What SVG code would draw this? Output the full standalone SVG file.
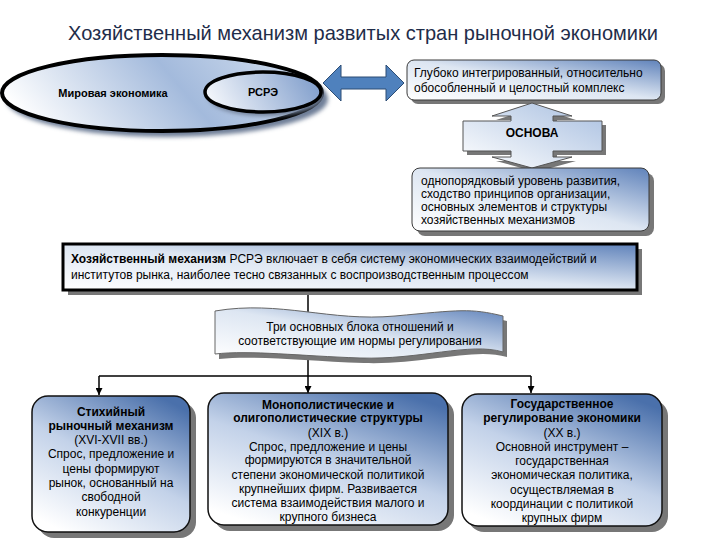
<svg xmlns="http://www.w3.org/2000/svg" width="720" height="540" viewBox="0 0 720 540">
<defs>
<linearGradient id="gEll" x1="0" y1="0.5" x2="1" y2="0.3">
<stop offset="0" stop-color="#ffffff"/>
<stop offset="0.55" stop-color="#a3badc"/>
<stop offset="1" stop-color="#d3dfef"/>
</linearGradient>
<linearGradient id="gSmall" x1="0" y1="0.5" x2="1" y2="0.3">
<stop offset="0" stop-color="#f3f6fb"/>
<stop offset="1" stop-color="#7f9dcb"/>
</linearGradient>
<linearGradient id="gBox" x1="0" y1="1" x2="1" y2="0">
<stop offset="0" stop-color="#ffffff"/>
<stop offset="0.5" stop-color="#dde6f2"/>
<stop offset="1" stop-color="#5f82ba"/>
</linearGradient>
<linearGradient id="gDown" x1="0.2" y1="1" x2="0.8" y2="0">
<stop offset="0" stop-color="#ffffff"/>
<stop offset="0.5" stop-color="#c3d2e9"/>
<stop offset="1" stop-color="#4a70ab"/>
</linearGradient>
<linearGradient id="gOsn" x1="0" y1="1" x2="1" y2="0">
<stop offset="0" stop-color="#ffffff"/>
<stop offset="1" stop-color="#a8bfe0"/>
</linearGradient>
<filter id="blur" x="-10%" y="-10%" width="120%" height="130%"><feGaussianBlur stdDeviation="2"/></filter>
<marker id="arr" viewBox="0 0 10 10" refX="10" refY="5" markerWidth="7" markerHeight="7" orient="auto" markerUnits="userSpaceOnUse">
<path d="M0,0 L10,5 L0,10 Z" fill="#000"/>
</marker>
<style>
text{font-family:"Liberation Sans",Arial,sans-serif;fill:#000;}
.t{font-size:12px;}
.b{font-weight:bold;}
.c{text-anchor:middle;}
.sh{fill:#777777;}
.box{stroke:#3a3a3a;stroke-width:1;}
.dbox{stroke:#111;stroke-width:1.5;fill:url(#gDown);}
.con{stroke:#000;stroke-width:1.5;fill:none;}
</style>
</defs>
<rect width="720" height="540" fill="#ffffff"/>

<text id="title" x="363" y="40" class="c" font-size="21" style="fill:#1f2d4a" textLength="590" lengthAdjust="spacingAndGlyphs">Хозяйственный механизм развитых стран рыночной экономики</text>

<g id="world">
<ellipse cx="167" cy="99" rx="161" ry="38" fill="#6f7f98" filter="url(#blur)"/>
<ellipse cx="162" cy="93" rx="160" ry="38" fill="url(#gEll)" stroke="#000" stroke-width="4"/>
<text x="113" y="97" class="b c" font-size="11">Мировая экономика</text>
</g>

<g id="rsre">
<ellipse cx="266" cy="96" rx="58" ry="20" fill="#6f7f98" filter="url(#blur)"/>
<ellipse cx="263" cy="92" rx="58" ry="20" fill="url(#gSmall)" stroke="#000" stroke-width="3.5"/>
<text x="263" y="96" class="b c" font-size="11">РСРЭ</text>
</g>

<g id="complex">
<rect x="411" y="64" width="254" height="40" rx="7" class="sh"/>
<rect x="407" y="60" width="254" height="40" rx="7" fill="url(#gBox)" class="box"/>
<text x="414" y="77" class="t">Глубоко интегрированный, относительно</text>
<text x="414" y="92" class="t">обособленный и целостный комплекс</text>
</g>

<g id="osnova">
<path d="M536,107 L576,120 L557,120 L557,125 L606,125 L606,155 L557,155 L557,161 L576,161 L536,172 L496,161 L515,161 L515,155 L467,155 L467,125 L515,125 L515,120 L496,120 Z" class="sh"/>
<path d="M532,103 L572,116 L553,116 L553,121 L602,121 L602,151 L553,151 L553,157 L572,157 L532,168 L492,157 L511,157 L511,151 L463,151 L463,121 L511,121 L511,116 L492,116 Z" fill="url(#gOsn)" stroke="#555" stroke-width="1"/>
<text x="532" y="137" class="t b c">ОСНОВА</text>
</g>

<g id="basis">
<rect x="417" y="173" width="237" height="63" rx="8" class="sh"/>
<rect x="412" y="168" width="237" height="63" rx="8" fill="url(#gBox)" class="box"/>
<text x="421" y="185" class="t">однопорядковый уровень развития,</text>
<text x="421" y="198" class="t">сходство принципов организации,</text>
<text x="421" y="211" class="t">основных элементов и структуры</text>
<text x="421" y="224" class="t">хозяйственных механизмов</text>
</g>

<g id="connectors">
<path d="M323,83 L341,65 L341,77 L386,77 L386,65 L404,83 L386,101 L386,89 L341,89 L341,101 Z" fill="#4f81bd" stroke="#2c4d75" stroke-width="1"/>
<line x1="308" y1="291" x2="308" y2="376" class="con"/>
<line x1="99" y1="376" x2="531" y2="376" class="con"/>
<line x1="99" y1="376" x2="99" y2="395" class="con" marker-end="url(#arr)"/>
<line x1="308" y1="376" x2="308" y2="393" class="con" marker-end="url(#arr)"/>
<line x1="531" y1="376" x2="531" y2="393" class="con" marker-end="url(#arr)"/>
</g>

<g id="mechanism">
<rect x="68" y="249" width="574" height="46" class="sh"/>
<rect x="63" y="244" width="574" height="46" fill="url(#gBox)" stroke="#000" stroke-width="3"/>
<text x="71" y="263" class="t"><tspan class="b">Хозяйственный механизм</tspan> РСРЭ включает в себя систему экономических взаимодействий и</text>
<text x="71" y="279" class="t">институтов рынка, наиболее тесно связанных с воспроизводственным процессом</text>
</g>

<g id="blocks">
<path d="M219,316 C284,305 334,327 399,321 S474,313 507,321 L507,357 C474,347 424,365 364,363 S254,355 219,359 Z" class="sh"/>
<path d="M215,311 C280,300 330,322 395,316 S470,308 503,316 L503,352 C470,342 420,360 360,358 S250,350 215,354 Z" fill="url(#gBox)" stroke="#666" stroke-width="1"/>
<text x="360" y="331" class="t c">Три основных блока отношений и</text>
<text x="360" y="345" class="t c">соответствующие им нормы регулирования</text>
</g>

<g id="spontaneous">
<rect x="38" y="402" width="158" height="136" rx="16" class="sh"/>
<rect x="32" y="396" width="158" height="136" rx="16" class="dbox"/>
<text x="111" y="416" class="t b c">Стихийный</text>
<text x="111" y="430" class="t b c">рыночный механизм</text>
<text x="111" y="444" class="t c">(XVI-XVII вв.)</text>
<text x="111" y="458" class="t c">Спрос, предложение и</text>
<text x="111" y="473" class="t c">цены формируют</text>
<text x="111" y="487" class="t c">рынок, основанный на</text>
<text x="111" y="501" class="t c">свободной</text>
<text x="111" y="516" class="t c">конкуренции</text>
</g>

<g id="monopoly">
<rect x="214" y="399" width="240" height="132" rx="16" class="sh"/>
<rect x="208" y="393" width="240" height="132" rx="16" class="dbox"/>
<text x="328" y="409" class="t b c">Монополистические и</text>
<text x="328" y="422" class="t b c">олигополистические структуры</text>
<text x="328" y="437" class="t c">(XIX в.)</text>
<text x="328" y="451" class="t c">Спрос, предложение и цены</text>
<text x="328" y="464" class="t c">формируются в значительной</text>
<text x="328" y="479" class="t c">степени экономической политикой</text>
<text x="328" y="493" class="t c">крупнейших фирм. Развивается</text>
<text x="328" y="507" class="t c">система взаимодействия малого и</text>
<text x="328" y="521" class="t c">крупного бизнеса</text>
</g>

<g id="state">
<rect x="468" y="400" width="200" height="132" rx="16" class="sh"/>
<rect x="462" y="394" width="200" height="132" rx="16" class="dbox"/>
<text x="562" y="408" class="t b c">Государственное</text>
<text x="562" y="422" class="t b c">регулирование экономики</text>
<text x="562" y="437" class="t c">(XX в.)</text>
<text x="562" y="451" class="t c">Основной инструмент –</text>
<text x="562" y="465" class="t c">государственная</text>
<text x="562" y="479" class="t c">экономическая политика,</text>
<text x="562" y="494" class="t c">осуществляемая в</text>
<text x="562" y="508" class="t c">координации с политикой</text>
<text x="562" y="522" class="t c">крупных фирм</text>
</g>
</svg>
